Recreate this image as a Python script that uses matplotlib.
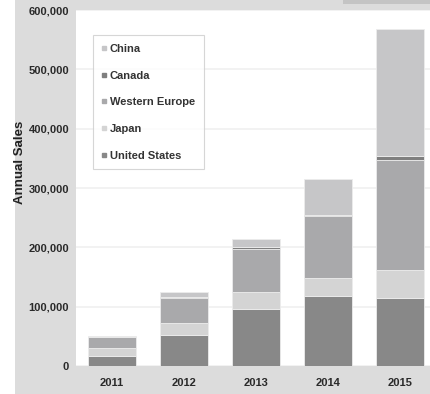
import numpy as np
import matplotlib.pyplot as plt
from matplotlib.lines import Line2D
from matplotlib.patches import Rectangle

years = ['2011', '2012', '2013', '2014', '2015']
united_states = [17000, 52500, 96500, 117500, 115000]
japan = [13000, 19500, 28500, 31000, 47000]
western_europe = [19500, 42000, 73000, 104000, 185000]
canada = [0, 1500, 2000, 1500, 7000]
china = [1000, 9000, 13500, 61000, 214000]

series = [('United States', united_states, '#888888'),
          ('Japan', japan, '#d4d4d4'),
          ('Western Europe', western_europe, '#a9a9ab'),
          ('Canada', canada, '#7f7f7f'),
          ('China', china, '#c6c6c8')]

plt.rcParams['font.family'] = ['Liberation Sans', 'DejaVu Sans']

fig = plt.figure(figsize=(4.3, 3.94), dpi=100, facecolor='#dcdcdc')
# white strip on the far left
fig.patches.append(Rectangle((0, 0), 15 / 430, 1, transform=fig.transFigure,
                             facecolor='white', edgecolor='none', zorder=0))
# darker bit at the top right
fig.patches.append(Rectangle((343 / 430, 1 - 4 / 394), 1, 4 / 394, transform=fig.transFigure,
                             facecolor='#c4c4c4', edgecolor='none', zorder=0))

ax = fig.add_axes([76 / 430, 28 / 394, 360 / 430, 356 / 394])
ax.set_facecolor('white')

x = np.arange(len(years))
bottom = np.zeros(len(years))
for name, vals, col in series:
    ax.bar(x, vals, 0.667, bottom=bottom, color=col, edgecolor='#ececec',
           linewidth=0.6, label=name, zorder=2)
    bottom += np.array(vals)

ax.set_xlim(-0.5, 4.5)
ax.set_ylim(0, 600000)
ax.set_yticks(range(0, 600001, 100000))
ax.set_yticklabels([f'{v:,}' for v in range(0, 600001, 100000)])
ax.set_xticks(x)
ax.set_xticklabels(years)
ax.grid(axis='y', color='#f0f0f0', linewidth=1.2, zorder=0)
for s in ax.spines.values():
    s.set_visible(False)
ax.tick_params(length=0, labelsize=8, labelcolor='#2a2a2a')
ax.tick_params(axis='y', pad=5)
ax.tick_params(axis='x', pad=9)
for lab in ax.get_xticklabels() + ax.get_yticklabels():
    lab.set_fontweight('bold')

fig.text(20 / 430, 1 - 162 / 394, 'Annual Sales', rotation=90, ha='center', va='center',
         fontsize=9.5, fontweight='bold', color='#222222')

handles = [Line2D([], [], marker='s', linestyle='none', markersize=3.2,
                  markerfacecolor=col, markeredgecolor=col) for _, _, col in series]
labels = [name for name, _, _ in series]
leg = ax.legend(handles[::-1], labels[::-1], loc='upper left',
                bbox_to_anchor=(17 / 360, 1 - 25 / 356), frameon=True, fancybox=False,
                handlelength=0.4, handletextpad=0.3, labelspacing=1.5,
                borderpad=0.8, borderaxespad=0, prop={'weight': 'bold', 'size': 8})
leg.get_frame().set_edgecolor('#cccccc')
leg.get_frame().set_linewidth(0.8)
for t in leg.get_texts():
    t.set_color('#333333')

fig.savefig('out.png', dpi=100)
